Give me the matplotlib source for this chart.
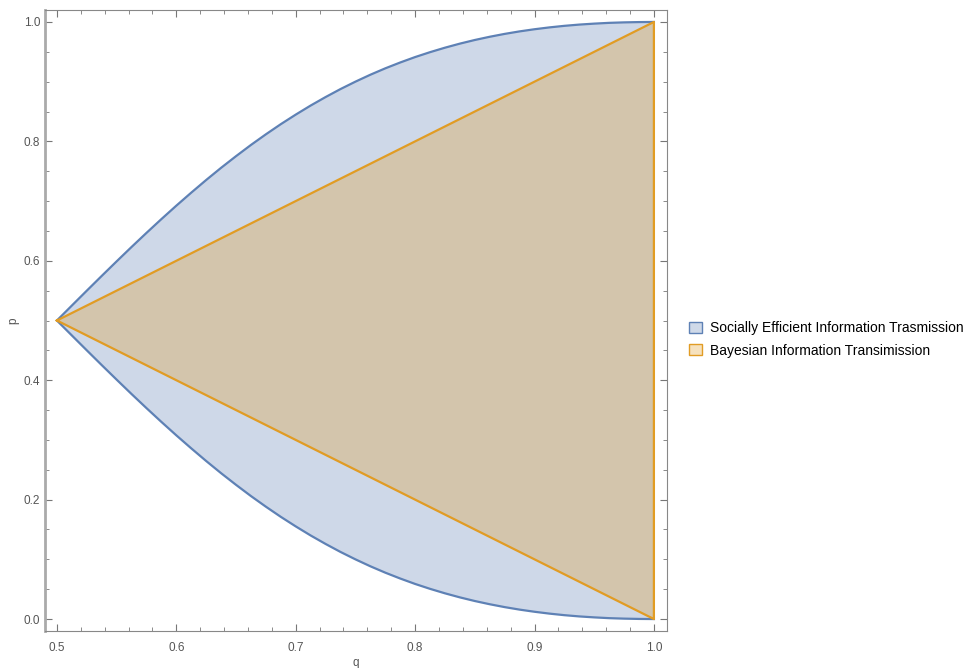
"""Region plot: socially efficient vs Bayesian information transmission."""

import matplotlib.pyplot as plt
from matplotlib.patches import Patch
from matplotlib.ticker import MultipleLocator

plt.rcParams["font.family"] = ["Liberation Sans", "DejaVu Sans"]

# boundary of the socially efficient region
q_vals = [0.5, 0.5125, 0.525, 0.5375, 0.55, 0.5625, 0.575, 0.5875, 0.6, 0.6125,
          0.625, 0.6375, 0.65, 0.6625, 0.675, 0.6875, 0.7, 0.7125, 0.725, 0.7375,
          0.75, 0.7625, 0.775, 0.7875, 0.8, 0.8125, 0.825, 0.8375, 0.85, 0.8625,
          0.875, 0.8875, 0.9, 0.9125, 0.925, 0.9375, 0.95, 0.9625, 0.975, 0.9875, 1.0]
p_upper = [0.5, 0.5250, 0.5499, 0.5746, 0.5990, 0.6231, 0.6467, 0.6698, 0.6923, 0.7141,
           0.7353, 0.7557, 0.7752, 0.7940, 0.8118, 0.8288, 0.8448, 0.8600, 0.8742, 0.8876,
           0.9000, 0.9116, 0.9223, 0.9321, 0.9412, 0.9494, 0.9569, 0.9637, 0.9698, 0.9752,
           0.9800, 0.9842, 0.9878, 0.9909, 0.9935, 0.9956, 0.9972, 0.9985, 0.9993, 0.9998, 1.0]
p_lower = [0.5, 0.4750, 0.4501, 0.4254, 0.4010, 0.3769, 0.3533, 0.3302, 0.3077, 0.2859,
           0.2647, 0.2443, 0.2248, 0.2060, 0.1882, 0.1712, 0.1552, 0.1400, 0.1258, 0.1124,
           0.1000, 0.0884, 0.0777, 0.0679, 0.0588, 0.0506, 0.0431, 0.0363, 0.0302, 0.0248,
           0.0200, 0.0158, 0.0122, 0.0091, 0.0065, 0.0044, 0.0028, 0.0015, 0.0007, 0.0002, 0.0]

# Bayesian region is a triangle
bayes_q = [0.5, 1.0, 1.0]
bayes_p = [0.5, 1.0, 0.0]

labels = ["Socially Efficient Information Trasmission",
          "Bayesian Information Transimission"]

BLUE = "#5E81B5"
ORANGE = "#E19C24"

fig = plt.figure(figsize=(9.67, 6.68), dpi=100)
ax = fig.add_axes([0.0465, 0.0554, 0.6433, 0.9296])

# socially efficient region
poly_q = q_vals + q_vals[::-1]
poly_p = p_upper + p_lower[::-1]
ax.fill(poly_q, poly_p, color=BLUE, alpha=0.3, lw=0)
ax.plot(q_vals, p_upper, color=BLUE, lw=1.6)
ax.plot(q_vals, p_lower, color=BLUE, lw=1.6)

# Bayesian region
ax.fill(bayes_q, bayes_p, color=ORANGE, alpha=0.3, lw=0)
ax.plot(bayes_q + bayes_q[:1], bayes_p + bayes_p[:1], color=ORANGE, lw=1.6)

ax.set_xlim(0.49, 1.011)
ax.set_ylim(-0.02, 1.02)
ax.xaxis.set_major_locator(MultipleLocator(0.1))
ax.xaxis.set_minor_locator(MultipleLocator(0.02))
ax.yaxis.set_major_locator(MultipleLocator(0.2))
ax.yaxis.set_minor_locator(MultipleLocator(0.05))
ax.tick_params(which="both", direction="in", top=True, right=True,
               color="#777777", labelcolor="#555555", labelsize=8.5)
ax.tick_params(which="major", length=5)
ax.tick_params(which="minor", length=3)
ax.tick_params(axis="x", pad=8)
for s in ax.spines.values():
    s.set_color("#888888")
ax.spines["left"].set_color("#aaaaaa")
ax.spines["left"].set_linewidth(2)

ax.set_xlabel("q", color="#555555", fontsize=8.5, labelpad=2)
ax.set_ylabel("p", color="#555555", fontsize=8.5, labelpad=3)

handles = [Patch(facecolor="#CFD9E8", edgecolor=BLUE, lw=1),
           Patch(facecolor="#F6E1BD", edgecolor=ORANGE, lw=1)]
fig.legend(handles, labels, loc="center left", bbox_to_anchor=(0.7, 0.492),
           frameon=False, fontsize=10, handlelength=0.9, handleheight=0.9,
           handletextpad=0.6, labelspacing=0.6)

plt.savefig("out.png", dpi=100)
